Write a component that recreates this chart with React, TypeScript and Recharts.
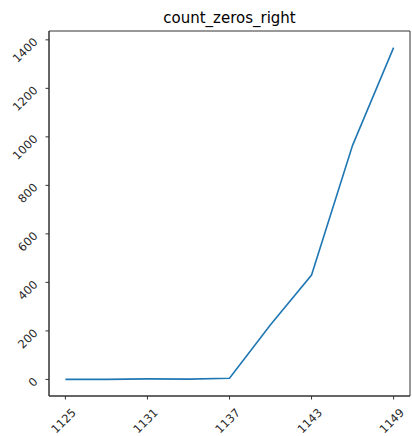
import React from "react";
import { Line, LineChart, ReferenceArea, XAxis, YAxis } from "recharts";

const positions = [1125, 1128, 1131, 1134, 1137, 1140, 1143, 1146, 1149];
const countZerosRight = [0, 0, 2, 1, 5, 225, 430, 965, 1368];
const xTicks = [1125, 1131, 1137, 1143, 1149];
const yTicks = [0, 200, 400, 600, 800, 1000, 1200, 1400];

const data = positions.map((p, i) => ({ pos: p, count: countZerosRight[i] }));

const X_DOMAIN: [number, number] = [1123.8, 1150.2];
const Y_DOMAIN: [number, number] = [-68.4, 1436.4];
const FONT = "DejaVu Sans, sans-serif";

function XTick({ x, y, payload }: any) {
  const ax = x + 8.5;
  const ay = y + 9;
  return (
    <text x={ax} y={ay} textAnchor="end" dominantBaseline="central" fontSize={11.5} fontFamily={FONT} fill="#262626" transform={`rotate(-45, ${ax}, ${ay})`}>
      {payload.value}
    </text>
  );
}

function YTick({ x, y, payload }: any) {
  const ax = x - 8;
  return (
    <text x={ax} y={y} textAnchor="end" dominantBaseline="central" fontSize={11.5} fontFamily={FONT} fill="#262626" transform={`rotate(-45, ${ax}, ${y})`}>
      {payload.value}
    </text>
  );
}

export default function App() {
  return (
    <div style={{ position: "absolute", left: 0, top: 0, width: 412, height: 436, background: "#fff" }}>
      <div
        style={{
          position: "absolute",
          left: 49,
          top: 11,
          width: 361,
          textAlign: "center",
          fontFamily: FONT,
          fontSize: 15,
          lineHeight: "15px",
          color: "#000",
        }}
      >
        count_zeros_right
      </div>
      <LineChart width={412} height={436} data={data} margin={{ top: 31, right: 2, bottom: 0, left: 0 }}>
        <XAxis
          dataKey="pos"
          type="number"
          domain={X_DOMAIN}
          allowDataOverflow
          ticks={xTicks}
          interval={0}
          height={40}
          tickSize={3.5}
          tick={<XTick />}
          axisLine={{ stroke: "#333" }}
          tickLine={{ stroke: "#333" }}
        />
        <YAxis
          type="number"
          domain={Y_DOMAIN}
          allowDataOverflow
          ticks={yTicks}
          interval={0}
          width={49}
          tickSize={3.5}
          tick={<YTick />}
          axisLine={{ stroke: "#333" }}
          tickLine={{ stroke: "#333" }}
        />
        <ReferenceArea x1={X_DOMAIN[0]} x2={X_DOMAIN[1]} y1={Y_DOMAIN[0]} y2={Y_DOMAIN[1]} fill="none" stroke="#333" strokeWidth={1} fillOpacity={0} />
        <Line type="linear" dataKey="count" stroke="#1f77b4" strokeWidth={1.6} dot={false} isAnimationActive={false} />
      </LineChart>
    </div>
  );
}
